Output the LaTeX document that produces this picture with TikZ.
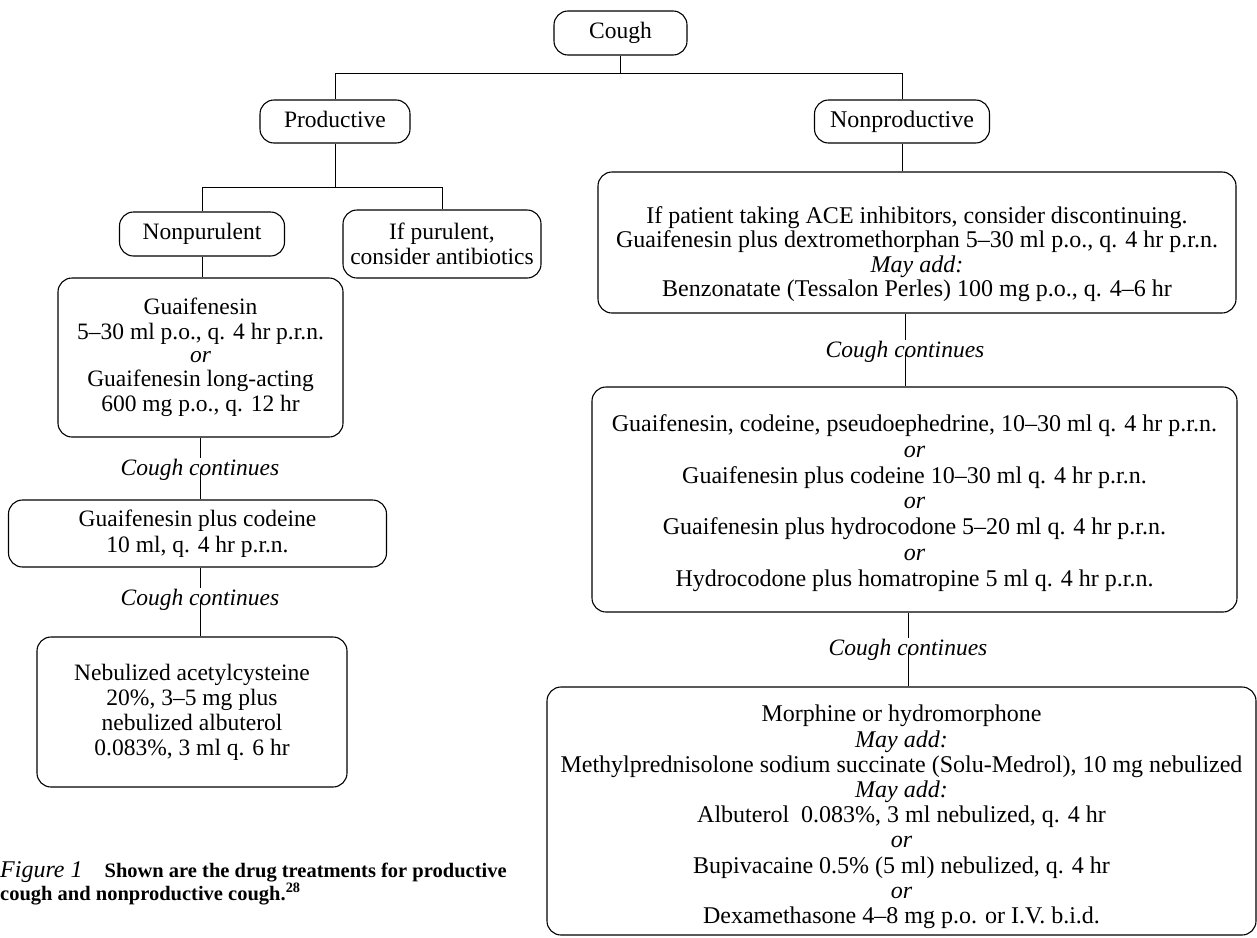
\documentclass[tikz,border=0pt]{standalone}
\usepackage{fontspec}
\setmainfont{Liberation Serif}
\usetikzlibrary{calc}

\newcommand\lfont{\fontsize{23.5}{25}\selectfont}
\newcommand\rfont{\fontsize{24}{25.2}\selectfont}

\begin{document}
\begin{tikzpicture}[x=1pt, y=-1pt,
  every node/.style={inner sep=0pt},
  frame/.style={draw=black, line width=1.1pt, rounded corners=14pt},
  box/.style={frame, align=center, font=\lfont},
  sbox/.style={frame, font=\lfont, text height=16pt, text depth=5pt},
  rtext/.style={align=center, font=\rfont},
  cont/.style={font=\lfont\itshape, inner sep=1pt, text height=16pt, text depth=5pt},
  link/.style={draw=black, line width=1pt},
]
\useasboundingbox (0,0) rectangle (1257,937);
\clip (0,0) rectangle (1257,937);

% ---- top levels ----
\node[sbox, minimum width=133pt, minimum height=44pt] (cough) at (620.5,33) {Cough};
\node[sbox, minimum width=150pt, minimum height=43pt] (prod) at (335,121.5) {Productive};
\node[sbox, minimum width=175pt, minimum height=43pt, font=\rfont] (nonprod) at (902,121.5) {Nonproductive};

% ---- productive branch ----
\node[sbox, minimum width=165pt, minimum height=44pt] (nonpur) at (202,234) {Nonpurulent};
\node[box, minimum width=198pt, minimum height=68pt] (pur) at (442,244)
  {If purulent,\\consider antibiotics};
\node[box, minimum width=285pt, minimum height=159pt] (guai) at (200.5,357.5)
  {Guaifenesin\\5–30 ml p.o., q. 4 hr p.r.n.\\[-2pt]\textit{or}\\[-1pt]Guaifenesin long-acting\\600 mg p.o., q. 12 hr};
\node[cont] (cc1) at (200,470) {Cough continues};
\node[box, minimum width=378pt, minimum height=67pt, font={\fontsize{23.5}{26.5}\selectfont}] (cod) at (197.5,533.5)
  {Guaifenesin plus codeine\\10 ml, q. 4 hr p.r.n.};
\node[cont] (cc2) at (200,600) {Cough continues};
\node[box, minimum width=310pt, minimum height=150pt] (neb) at (192,712)
  {Nebulized acetylcysteine\\20\%, 3–5 mg plus\\nebulized albuterol\\0.083\%, 3 ml q. 6 hr};

% ---- nonproductive branch ----
\node[frame, minimum width=638pt, minimum height=141pt] (r1) at (917,242.5) {};
\node[rtext, font={\fontsize{24}{24.4}\selectfont}] (r1t) at (917,254)
  {If patient taking ACE inhibitors, consider discontinuing.\\
   Guaifenesin plus dextromethorphan 5–30 ml p.o., q. 4 hr p.r.n.\\
   \textit{May add:}\\
   Benzonatate (Tessalon Perles) 100 mg p.o., q. 4–6 hr};
\node[cont] (cc3) at (905,352) {Cough continues};
\node[frame, minimum width=645pt, minimum height=225pt] (r2) at (914.5,499.5) {};
\node[rtext, font={\fontsize{24}{25.8}\selectfont}] (r2t) at (914.5,503)
  {Guaifenesin, codeine, pseudoephedrine, 10–30 ml q. 4 hr p.r.n.\\
   \textit{or}\\
   Guaifenesin plus codeine 10–30 ml q. 4 hr p.r.n.\\
   \textit{or}\\
   Guaifenesin plus hydrocodone 5–20 ml q. 4 hr p.r.n.\\
   \textit{or}\\
   Hydrocodone plus homatropine 5 ml q. 4 hr p.r.n.};
\node[cont] (cc4) at (908,650) {Cough continues};
\node[frame, minimum width=709pt, minimum height=248pt] (r3) at (901.5,811) {};
\node[rtext] (r3t) at (901.5,817)
  {Morphine or hydromorphone\\
   \textit{May add:}\\
   Methylprednisolone sodium succinate (Solu-Medrol), 10 mg nebulized\\
   \textit{May add:}\\
   Albuterol\ \ 0.083\%, 3 ml nebulized, q. 4 hr\\
   \textit{or}\\
   Bupivacaine 0.5\% (5 ml) nebulized, q. 4 hr\\
   \textit{or}\\
   Dexamethasone 4–8 mg p.o. or I.V. b.i.d.};

% ---- caption ----
\node[anchor=base west] (cap1) at (0,877)
  {{\fontsize{24}{24}\selectfont\itshape Figure 1}\hspace{22pt}{\fontsize{20.5}{24}\selectfont\bfseries Shown are the drug treatments for productive}};
\node[anchor=base west] (cap2) at (0,900)
  {\fontsize{20.5}{24}\selectfont\bfseries cough and nonproductive cough.\textsuperscript{28}};

% ---- connectors ----
\path (cough.south) ++(0,18) coordinate (j1);
\draw[link] (cough.south) -- (j1);
\draw[link] (prod.north) |- (j1) -| (nonprod.north);

\path (prod.south) ++(0,44) coordinate (j2);
\draw[link] (prod.south) -- (j2);
\draw[link] (nonpur.north) |- (j2) -| (pur.north);

\draw[link] (nonpur.south) -- (nonpur.south |- guai.north);
\draw[link] (cc1.north |- guai.south) -- (cc1.north);
\draw[link] (cc1.center) -- (cc1.center |- cod.north);
\draw[link] (cc2.north |- cod.south) -- (cc2.north);
\draw[link] (cc2.center) -- (cc2.center |- neb.north);

\draw[link] (nonprod.south) -- (nonprod.south |- r1.north);
\draw[link] (cc3.north |- r1.south) -- (cc3.north);
\draw[link] (cc3.center) -- (cc3.center |- r2.north);
\draw[link] (cc4.north |- r2.south) -- (cc4.north);
\draw[link] (cc4.center) -- (cc4.center |- r3.north);
\end{tikzpicture}
\end{document}
